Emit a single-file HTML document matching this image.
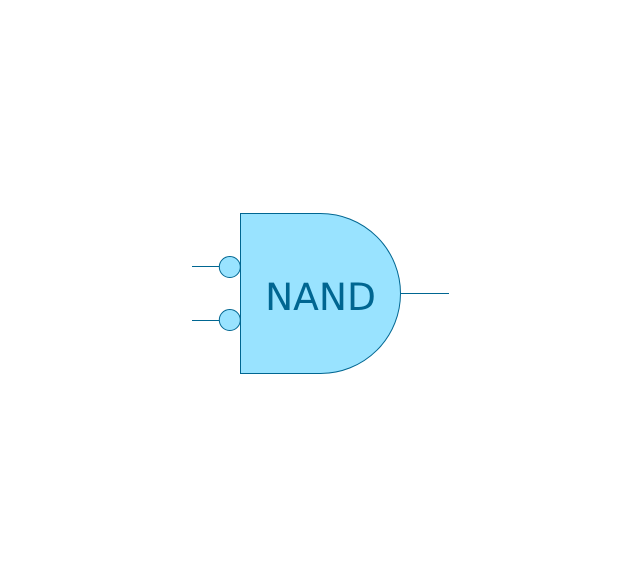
<!DOCTYPE html>
<html>
<head>
<meta charset="utf-8">
<style>
html,body{margin:0;padding:0;background:#fff;}
svg{display:block;}
</style>
</head>
<body>
<svg width="640" height="586" viewBox="0 0 640 586" xmlns="http://www.w3.org/2000/svg">
<path d="M240.5 213.5 H320.5 A80 80 0 0 1 320.5 373.5 H240.5 Z" fill="#99e3ff" stroke="#006691" stroke-width="1"/>
<line x1="192" y1="266.5" x2="219" y2="266.5" stroke="#006691" stroke-width="1"/>
<line x1="192" y1="320.5" x2="219" y2="320.5" stroke="#006691" stroke-width="1"/>
<line x1="401" y1="293.5" x2="449" y2="293.5" stroke="#006691" stroke-width="1"/>
<circle cx="229.8" cy="267" r="10.5" fill="#99e3ff" stroke="#006691" stroke-width="1"/>
<circle cx="229.8" cy="320" r="10.5" fill="#99e3ff" stroke="#006691" stroke-width="1"/>
<text x="320.5" y="310" text-anchor="middle" font-family="'DejaVu Sans',sans-serif" font-size="37.6" fill="#006691">NAND</text>
</svg>
</body>
</html>
